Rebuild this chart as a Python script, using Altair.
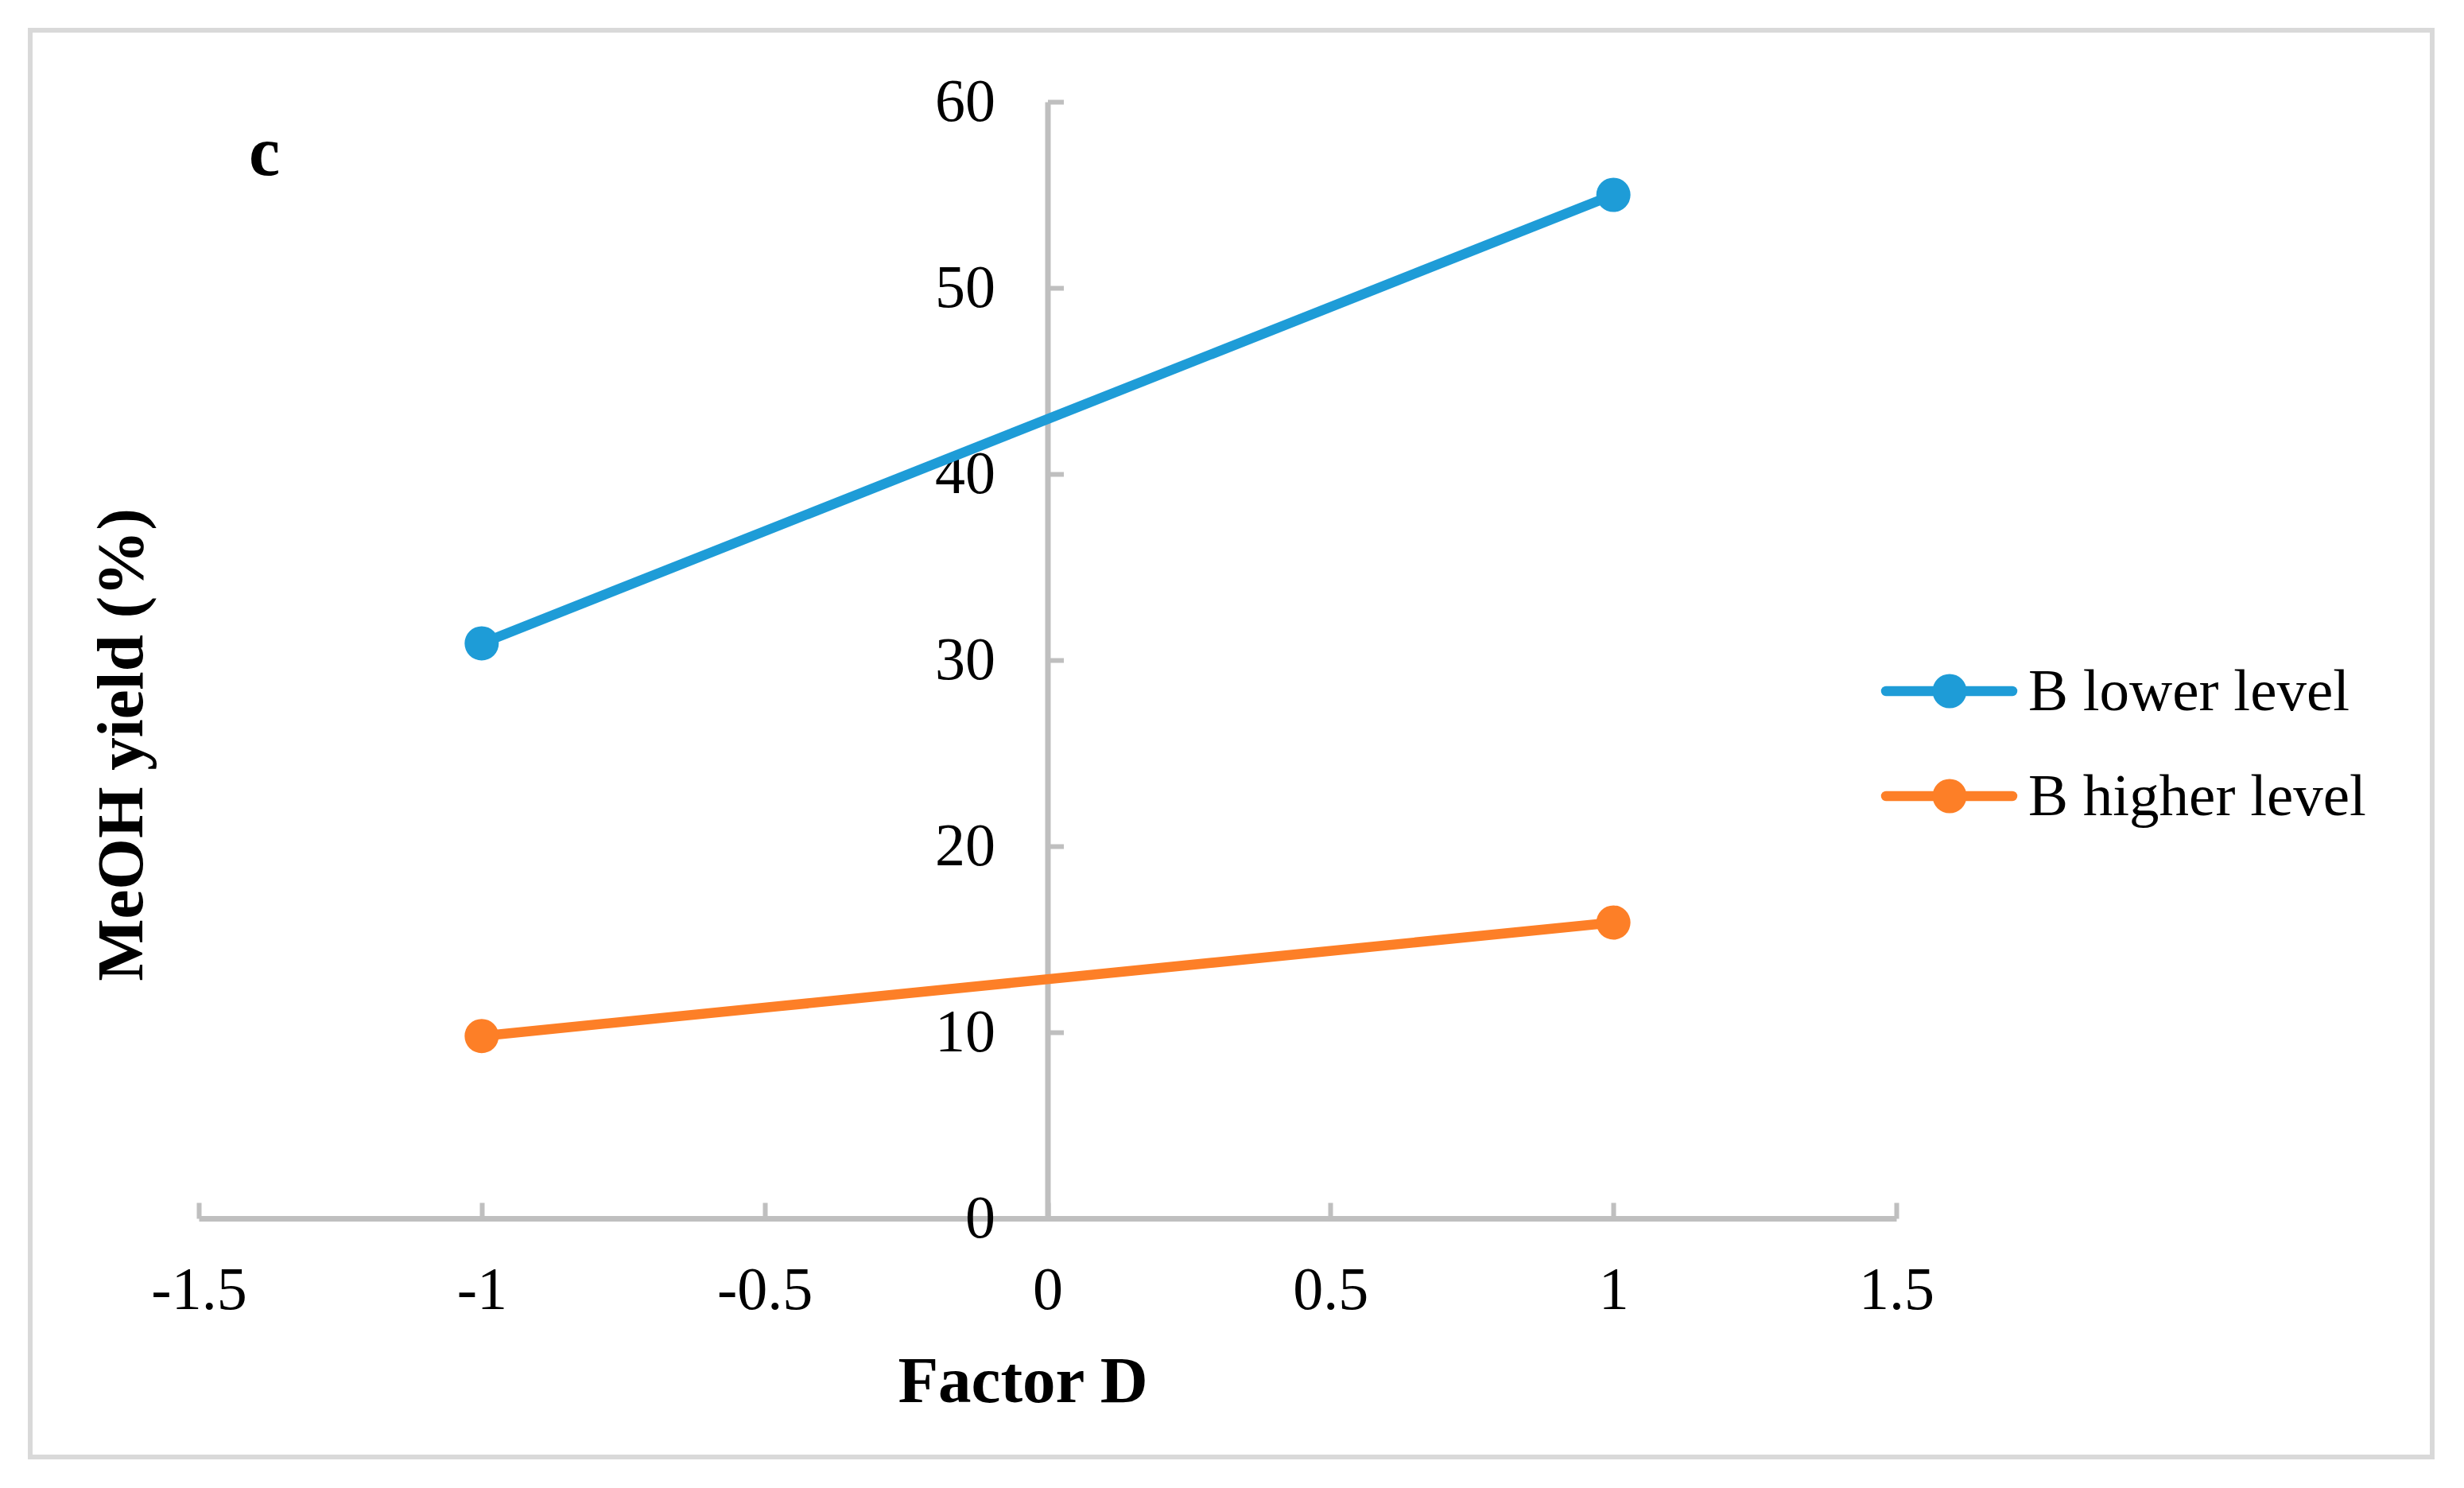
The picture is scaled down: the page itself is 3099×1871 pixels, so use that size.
import altair as alt
import pandas as pd

# ---- data ----
factor_d = [-1, 1]
b_lower = [30.9, 55.0]
b_higher = [9.8, 15.9]
series_names = ["B lower level", "B higher level"]
series_colors = ["#1E9CD7", "#FD7F27"]
x_ticks = [-1.5, -1, -0.5, 0, 0.5, 1, 1.5]
y_ticks = [0, 10, 20, 30, 40, 50, 60]

rows = []
for name, vals in zip(series_names, [b_lower, b_higher]):
    for xv, yv in zip(factor_d, vals):
        rows.append({"D": xv, "yield": yv, "series": name})
df = pd.DataFrame(rows)

W, H = 2135, 1404
FONT = "Liberation Serif"
GRAY = "#BFBFBF"
MID = W / 2.0  # x = 0 position
PT_SIZE = 1850
LINE_W = 12.5

xscale = alt.Scale(domain=[-1.5, 1.5], nice=False, zero=False)
yscale = alt.Scale(domain=[0, 60], nice=False)
color_scale = alt.Scale(domain=series_names, range=series_colors)

x_lab_axis = alt.Axis(
    orient="bottom", values=x_ticks, labelExpr="toString(datum.value)",
    ticks=False, tickSize=0, grid=False, domainColor=GRAY, domainWidth=7,
    labelFont=FONT, labelFontSize=76, labelColor="black", labelPadding=53,
    labelBaseline="top", labelFlush=False, labelOverlap=False,
    title="Factor D", titleFont=FONT, titleFontSize=83, titleFontWeight="bold",
    titleColor="black", titleX=1036, titleY=230, titleBaseline="alphabetic",
    titleAlign="center", titleAnchor="middle",
)
y_lab_axis = alt.Axis(
    orient="left", offset=-MID, values=y_ticks, ticks=False, tickSize=0,
    grid=False, domainColor=GRAY, domainWidth=7,
    labelFont=FONT, labelFontSize=76, labelColor="black", labelPadding=66,
    labelFlush=False, labelOverlap=False,
    title="MeOH yield (%)", titleFont=FONT, titleFontSize=83,
    titleFontWeight="bold", titleColor="black", titleAngle=270,
    titleX=-1139, titleY=808, titleBaseline="alphabetic", titleAlign="center",
)
x_tick_axis = alt.Axis(
    orient="top", offset=-H, values=x_ticks, ticks=True, tickSize=20,
    tickWidth=6, tickColor=GRAY, labels=False, domain=False, grid=False,
    title=None,
)
y_tick_axis = alt.Axis(
    orient="right", offset=-(W - MID), values=y_ticks, ticks=True,
    tickSize=20, tickWidth=6, tickColor=GRAY, labels=False, domain=False,
    grid=False, title=None,
)

base = alt.Chart(df)

lines = base.mark_line(strokeWidth=LINE_W).encode(
    x=alt.X("D:Q", scale=xscale, axis=x_lab_axis),
    y=alt.Y("yield:Q", scale=yscale, axis=y_lab_axis),
    color=alt.Color("series:N", scale=color_scale, sort=series_names, legend=None),
    detail="series:N",
)

points = base.mark_circle(size=PT_SIZE, opacity=1).encode(
    x=alt.X("D:Q", scale=xscale, axis=x_tick_axis),
    y=alt.Y("yield:Q", scale=yscale, axis=y_tick_axis),
    color=alt.Color("series:N", scale=color_scale, sort=series_names, legend=None),
)

one = alt.Data(values=[{"k": 1}])

border = alt.Chart(one).mark_rect(
    fill="white", fillOpacity=0, stroke="#D9D9D9", strokeWidth=6
).encode(
    x=alt.value(-212), x2=alt.value(2809), y=alt.value(-90), y2=alt.value(1704)
)

panel_label = alt.Chart(one).mark_text(
    text="c", font=FONT, fontSize=88, fontWeight="bold", color="black",
    align="left", baseline="alphabetic",
).encode(x=alt.value(63), y=alt.value(92))

# ---- legend (line + marker + label per series) ----
LEG_X0, LEG_X1, LEG_CX, LEG_TX = 2122, 2281, 2202, 2301
LEG_Y0, LEG_DY = 741, 132
legend_layers = []
for i, (name, col) in enumerate(zip(series_names, series_colors)):
    cy = LEG_Y0 + i * LEG_DY
    legend_layers.append(
        alt.Chart(one).mark_rule(strokeWidth=LINE_W, strokeCap="round", color=col).encode(
            x=alt.value(LEG_X0), x2=alt.value(LEG_X1), y=alt.value(cy)
        )
    )
    legend_layers.append(
        alt.Chart(one).mark_circle(size=PT_SIZE, opacity=1, color=col).encode(
            x=alt.value(LEG_CX), y=alt.value(cy)
        )
    )
    legend_layers.append(
        alt.Chart(one).mark_text(
            text=name, font=FONT, fontSize=75, color="black",
            align="left", baseline="alphabetic",
        ).encode(x=alt.value(LEG_TX), y=alt.value(cy + 24))
    )

chart = alt.layer(border, lines, points, panel_label, *legend_layers).resolve_axis(
    x="independent", y="independent"
).properties(
    width=W, height=H,
    autosize=alt.AutoSizeParams(type="none"),
    padding={"left": 242, "top": 120, "right": 690, "bottom": 315},
    background="white",
).configure_view(stroke=None)

chart.save("out.html", embed_options={"renderer": "svg", "actions": False})
